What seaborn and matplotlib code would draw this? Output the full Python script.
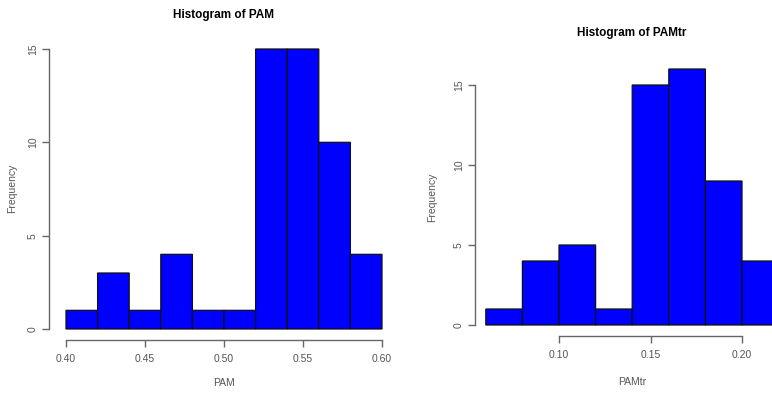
import numpy as np
import pandas as pd
import matplotlib
matplotlib.use("Agg")
import matplotlib.pyplot as plt
import seaborn as sns

# Data (R-style histograms)
pam_edges = [0.40, 0.42, 0.44, 0.46, 0.48, 0.50, 0.52, 0.54, 0.56, 0.58, 0.60]
pam_counts = [1, 3, 1, 4, 1, 1, 15, 15, 10, 4]
pamtr_edges = [0.06, 0.08, 0.10, 0.12, 0.14, 0.16, 0.18, 0.20, 0.22]
pamtr_counts = [1, 4, 5, 1, 15, 16, 9, 4]

pam_xticks = [0.40, 0.45, 0.50, 0.55, 0.60]
pam_yticks = [0, 5, 10, 15]
pamtr_xticks = [0.10, 0.15, 0.20]
pamtr_yticks = [0, 5, 10, 15]

sns.set_style("white")
plt.rcParams["font.family"] = ["Liberation Sans", "DejaVu Sans"]

W, H = 772, 394
fig = plt.figure(figsize=(W / 100, H / 100), dpi=100)

grey = "#555555"
axcol = "#666666"


def rect(l, r, b, t):
    return [l / W, 1 - b / H, (r - l) / W, (b - t) / H]


def draw(ax, edges, counts, xlim, ylim, xticks, yticks):
    centers = [(edges[i] + edges[i + 1]) / 2 for i in range(len(counts))]
    df = pd.DataFrame({"x": centers, "w": counts})
    sns.histplot(data=df, x="x", weights="w", bins=edges, ax=ax,
                 color="#0000ff", alpha=1, edgecolor="#111111", linewidth=0.9)
    for p in ax.patches:
        p.set_edgecolor("#111111")
        p.set_linewidth(0.9)
        p.set_facecolor("#0000ff")
        p.set_alpha(1)
        p.set_snap(False)
    ax.set_xlim(*xlim)
    ax.set_ylim(*ylim)
    ax.set_xticks(xticks)
    ax.set_xticklabels([f"{v:.2f}" for v in xticks])
    ax.set_yticks(yticks)
    ax.set_yticklabels([str(v) for v in yticks], rotation=90, va="center")
    for s in ["top", "right"]:
        ax.spines[s].set_visible(False)
    ax.spines["left"].set_bounds(yticks[0], yticks[-1])
    ax.spines["bottom"].set_bounds(xticks[0], xticks[-1])
    for s in ["left", "bottom"]:
        ax.spines[s].set_color(axcol)
        ax.spines[s].set_linewidth(1.0)
    ax.tick_params(axis="both", length=5, width=1.0, color=axcol,
                   labelcolor=grey, labelsize=7.5, direction="out",
                   left=True, bottom=True)
    ax.tick_params(axis="x", pad=5)
    ax.tick_params(axis="y", pad=3)
    ax.set_xlabel("")
    ax.set_ylabel("")
    ax.patch.set_alpha(0)


# Left panel
ax1 = fig.add_axes(rect(49, 390, 340, 40))
draw(ax1, pam_edges, pam_counts,
     (0.40 - 17 / 1580, 0.40 + 324 / 1580), (-11 / 18.67, 15 + 9 / 18.67),
     pam_xticks, pam_yticks)

# Right panel
ax2 = fig.add_axes(rect(475, 772, 336, 60))
draw(ax2, pamtr_edges, pamtr_counts,
     (0.10 - 84 / 1830, 0.10 + 213 / 1830), (-11 / 16, 15 + 25 / 16),
     pamtr_xticks, pamtr_yticks)

fs_title = 8.5
fig.text(224 / W, 1 - 15 / H, "Histogram of PAM", ha="center", va="center",
         fontsize=fs_title, fontweight="bold", color="black")
fig.text(632 / W, 1 - 33 / H, "Histogram of PAMtr", ha="center", va="center",
         fontsize=fs_title, fontweight="bold", color="black")
fig.text(224 / W, 1 - 383 / H, "PAM", ha="center", va="center",
         fontsize=7.5, color=grey)
fig.text(632 / W, 1 - 382 / H, "PAMtr", ha="center", va="center",
         fontsize=7.5, color=grey)
fig.text(12 / W, 1 - 188 / H, "Frequency", ha="center", va="center",
         rotation=90, fontsize=7.5, color=grey)
fig.text(432 / W, 1 - 197 / H, "Frequency", ha="center", va="center",
         rotation=90, fontsize=7.5, color=grey)

fig.savefig("out.png", dpi=100)
